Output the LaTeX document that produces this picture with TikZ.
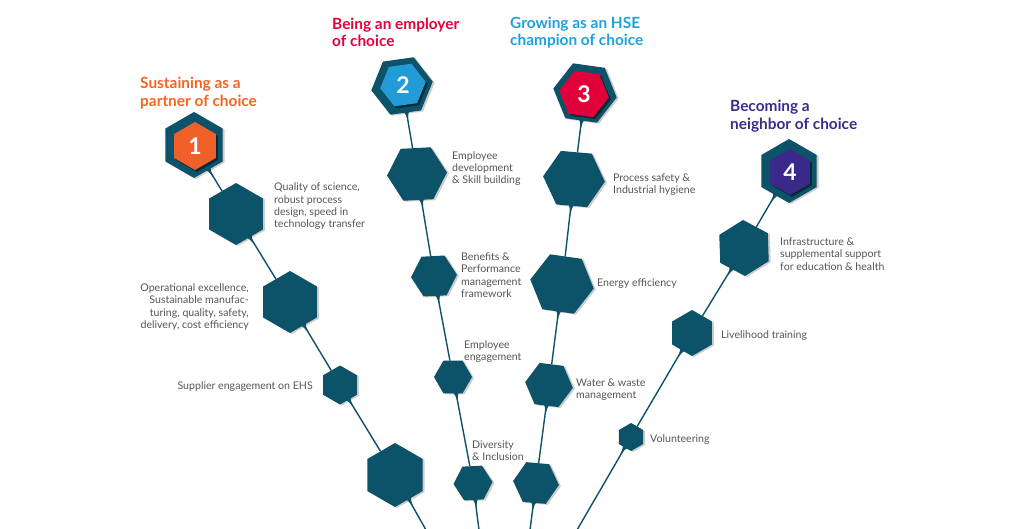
\documentclass[tikz,border=0pt]{standalone}
\usepackage{fontspec}
\setmainfont{Lato}
\usetikzlibrary{shapes.geometric,shadows,calc}
\definecolor{hexteal}{RGB}{12,82,104}
\definecolor{torange}{RGB}{242,101,34}
\definecolor{tcrimson}{RGB}{228,0,59}
\definecolor{tsky}{RGB}{30,160,220}
\definecolor{tpurple}{RGB}{59,42,140}
\definecolor{bodygray}{RGB}{85,85,85}
\definecolor{inblue}{RGB}{35,155,215}
\definecolor{inred}{RGB}{226,0,58}
\definecolor{inpurple}{RGB}{58,40,138}
\definecolor{inorange}{RGB}{240,96,40}
\newcommand\hexdrip[2]{%
  \fill[hexteal] ($(#1.#2)+({#2+90}:4)+(#2:-3)$)
    .. controls ($(#1.#2)+(#2:1.5)+({#2+90}:1.2)$) .. ($(#1.#2)+(#2:9)$)
    .. controls ($(#1.#2)+(#2:1.5)+({#2-90}:1.2)$) .. ($(#1.#2)+({#2-90}:4)+(#2:-3)$) -- cycle;}
\begin{document}
\begin{tikzpicture}[x=1pt,y=1pt,
  hexbase/.style={regular polygon, regular polygon sides=6, inner sep=0pt, outer sep=0pt, fill=hexteal},
  hexnode/.style 2 args={hexbase, minimum size=#1, shape border rotate=#2,
     drop shadow={shadow xshift=2pt, shadow yshift=-1pt, fill=black, opacity=0.2}},
  badge/.style 2 args={regular polygon, regular polygon sides=6, inner sep=0pt, outer sep=0pt,
     minimum size=#1, shape border rotate=#2, text=white, font=\fontsize{23}{23}\selectfont\bfseries,
     drop shadow={shadow xshift=2pt, shadow yshift=-2pt, fill=black!60!hexteal, opacity=0.8}},
  link/.style={draw=hexteal, line width=1.4pt},
  ttl/.style={anchor=west, align=left, inner sep=0pt, font=\fontsize{15.4}{17.5}\selectfont\bfseries},
  lbl/.style={anchor=west, align=left, inner sep=0pt, text=bodygray, font=\fontsize{10.6}{12.3}\selectfont},
  lblr/.style={lbl, anchor=east, align=right},
]
\useasboundingbox (0,0) rectangle (1024,-528);
\clip (0,0) rectangle (1024,-528);

% ---------- branch 1 ----------
\node[hexnode={66}{90}] (h1) at (194,-145) {};
\node[badge={48}{90}, fill=inorange] (n1) at (195,-146) {1};
\node[hexnode={62}{90}] (a1) at (236,-214) {};
\node[hexnode={62}{90}] (a2) at (290,-302) {};
\node[hexnode={39}{90}] (a3) at (340,-385) {};
\node[hexnode={64}{90}] (a4) at (395,-475) {};
\coordinate (e1) at (426,-530);

% ---------- branch 2 ----------
\node[hexnode={62}{8}] (h2) at (402,-86) {};
\node[badge={46}{8}, fill=inblue] (n2) at (403,-85) {2};
\node[hexnode={60}{3}] (b1) at (417,-174) {};
\node[hexnode={46}{3}] (b2) at (434,-276) {};
\node[hexnode={38}{0}] (b3) at (453,-377) {};
\node[hexnode={39}{3}] (b4) at (473,-483) {};
\coordinate (e2) at (479,-530);

% ---------- branch 3 ----------
\node[hexnode={64}{-8}] (h3) at (585,-93) {};
\node[badge={50}{-8}, fill=inred] (n3) at (584,-94) {3};
\node[hexnode={62}{-5}] (c1) at (574,-179) {};
\node[hexnode={64}{-8}] (c2) at (562,-284) {};
\node[hexnode={48}{-7}] (c3) at (549,-385) {};
\node[hexnode={46}{-5}] (c4) at (536,-483) {};
\coordinate (e3) at (530,-530);

% ---------- branch 4 ----------
\node[hexnode={64}{90}] (h4) at (789,-171) {};
\node[badge={46}{90}, fill=inpurple] (n4) at (790,-172) {4};
\node[hexnode={56}{92}] (d1) at (744,-248) {};
\node[hexnode={46}{90}] (d2) at (692,-333) {};
\node[hexnode={28}{90}] (d3) at (631,-437) {};
\coordinate (e4) at (577,-530);

% ---------- connectors ----------
\draw[link] (h1) -- (a1); \draw[link] (a1) -- (a2); \draw[link] (a2) -- (a3);
\draw[link] (a3) -- (a4); \draw[link] (a4) -- (e1);
\draw[link] (h2) -- (b1); \draw[link] (b1) -- (b2); \draw[link] (b2) -- (b3);
\draw[link] (b3) -- (b4); \draw[link] (b4) -- (e2);
\draw[link] (h3) -- (c1); \draw[link] (c1) -- (c2); \draw[link] (c2) -- (c3);
\draw[link] (c3) -- (c4); \draw[link] (c4) -- (e3);
\draw[link] (h4) -- (d1); \draw[link] (d1) -- (d2); \draw[link] (d2) -- (d3);
\draw[link] (d3) -- (e4);

\hexdrip{h1}{-59}\hexdrip{a1}{-59}\hexdrip{a2}{-59}\hexdrip{a3}{-59}\hexdrip{a4}{-60}
\hexdrip{h2}{-80}\hexdrip{b1}{-80}\hexdrip{b2}{-79}\hexdrip{b3}{-79}\hexdrip{b4}{-82}
\hexdrip{h3}{-97}\hexdrip{c1}{-96}\hexdrip{c2}{-97}\hexdrip{c3}{-97}\hexdrip{c4}{-97}
\hexdrip{h4}{-120}\hexdrip{d1}{-121}\hexdrip{d2}{-120}\hexdrip{d3}{-121}

% ---------- titles ----------
\node[ttl, text=torange] (t1) at (140,-93) {Sustaining as a\\partner of choice};
\node[ttl, text=tcrimson] (t2) at (332,-32.5) {Being an employer\\of choice};
\node[ttl, text=tsky] (t3) at (510,-32.5) {Growing as an HSE\\champion of choice};
\node[ttl, text=tpurple] (t4) at (730,-116) {Becoming a\\neighbor of choice};

% ---------- labels ----------
\node[lbl] (ta1) at (274,-206.5) {Quality of science,\\robust process\\design, speed in\\technology transfer};
\node[lblr] (ta2) at (249,-307) {Operational excellence,\\Sustainable manufac-\\turing, quality, safety,\\delivery, cost efficiency};
\node[lblr] (ta3) at (313,-386.5) {Supplier engagement on EHS};
\node[lbl] (tb1) at (452,-168.5) {Employee\\development\\\& Skill building};
\node[lbl] (tb2) at (461,-275) {Benefits \&\\Performance\\management\\framework};
\node[lbl] (tb3) at (464,-351.5) {Employee\\engagement};
\node[lbl] (tb4) at (472,-451) {Diversity\\\& Inclusion};
\node[lbl] (tc1) at (613,-184.5) {Process safety \&\\Industrial hygiene};
\node[lbl] (tc2) at (597,-283.5) {Energy efficiency};
\node[lbl] (tc3) at (576,-389.5) {Water \& waste\\management};
\node[lbl] (td1) at (780,-254) {Infrastructure \&\\supplemental support\\for education \& health};
\node[lbl] (td2) at (721,-335.5) {Livelihood training};
\node[lbl] (td3) at (650,-439.5) {Volunteering};
\end{tikzpicture}
\end{document}
